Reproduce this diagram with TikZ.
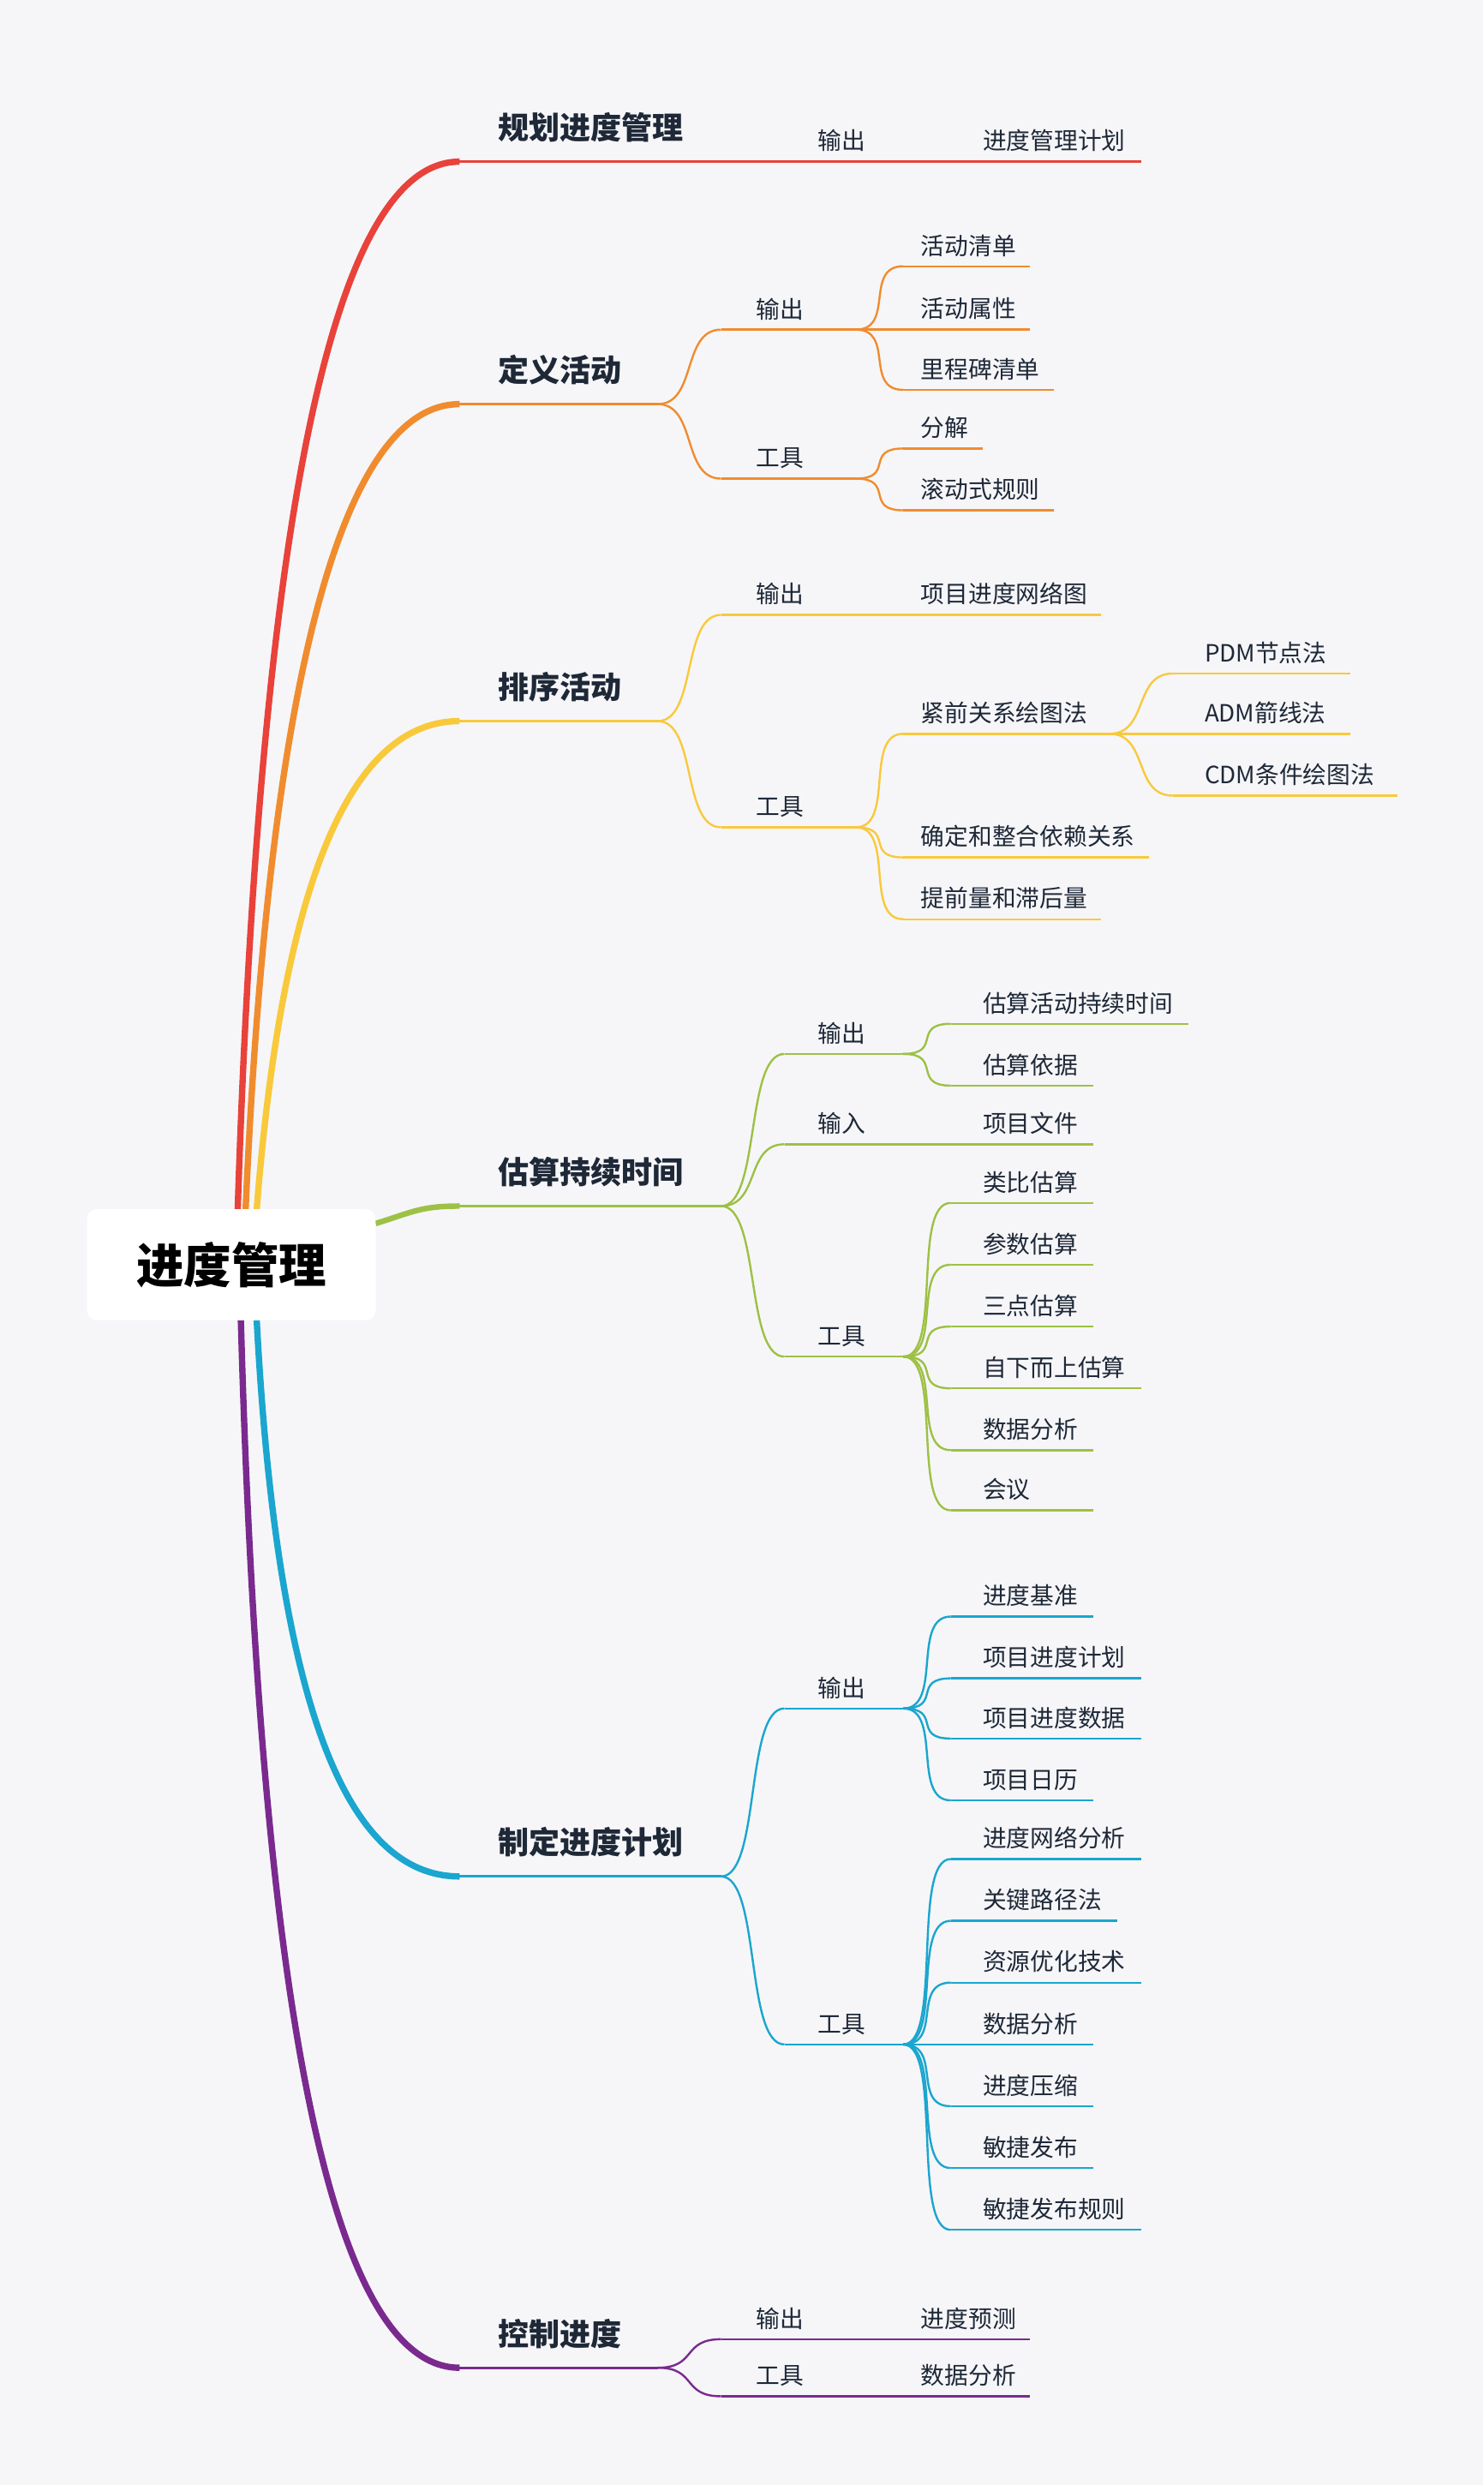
\documentclass[tikz,border=0pt]{standalone}
\usepackage{fontspec}
\setmainfont{Noto Sans CJK SC}
\definecolor{bg}{HTML}{F6F6F9}
\definecolor{cR}{HTML}{E8423A}
\definecolor{cO}{HTML}{F08C2E}
\definecolor{cY}{HTML}{F9C93C}
\definecolor{cG}{HTML}{9DC144}
\definecolor{cB}{HTML}{1AA6CE}
\definecolor{cP}{HTML}{7A2A8E}
\definecolor{tx}{HTML}{1E2837}
\tikzset{ln/.style={line width=1.3pt},
 lone/.style={line width=1.8pt},
 lbl/.style={anchor=south west,inner sep=3pt,yshift=3pt,text=tx,font=\fontsize{15}{17}\selectfont},
 lbo/.style={anchor=south west,inner sep=4pt,yshift=8pt,text=tx,font=\fontsize{19.5}{21}\selectfont\bfseries}}
% #1 color #2 name #3 x1 #4 x2 #5 y #6 label x #7 text
\newcommand\sg[7]{\coordinate (#2a) at (#3,#5);\coordinate (#2b) at (#4,#5);
 \draw[#1,ln] (#2a) -- (#2b); \node[lbl] (#2t) at (#6,#5) {#7};}
\newcommand\lk[3]{\draw[#1,ln] (#2b) .. controls +(25,0) and +(-25,0) .. (#3a);}
\begin{document}
\begin{tikzpicture}[x=1pt,y=-1pt]
\fill[bg] (0,0) rectangle (936,1568);
\useasboundingbox (0,0) rectangle (936,1568);
% level-1 anchors
\coordinate (s1) at (150,763);\coordinate (s2) at (155,763);\coordinate (s3) at (162,763);
\coordinate (s4) at (237,772);\coordinate (s5) at (162,833);\coordinate (s6) at (152,833);
\coordinate (Pa) at (290,102);\coordinate (Pb) at (720,102);
\coordinate (Da) at (290,255);\coordinate (Db) at (415,255);
\coordinate (Sa) at (290,455);\coordinate (Sb) at (415,455);
\coordinate (Ea) at (290,761);\coordinate (Eb) at (455,761);
\coordinate (Ma) at (290,1184);\coordinate (Mb) at (455,1184);
\coordinate (Ca) at (290,1494);\coordinate (Cb) at (415,1494);
\draw[cP,line width=4pt] (s6) .. controls (165,1300) and (215,1494) .. (Ca);
\draw[cB,line width=4pt] (s5) .. controls (175,1080) and (220,1184) .. (Ma);
\draw[cR,line width=4pt] (s1) .. controls (165,300) and (215,102) .. (Pa);
\draw[cO,line width=4pt] (s2) .. controls (170,420) and (218,255) .. (Da);
\draw[cY,line width=4pt] (s3) .. controls (178,560) and (220,455) .. (Sa);
\draw[cG,line width=3.5pt] (s4) .. controls (260,765) and (265,761) .. (Ea);
\node[fill=white,rounded corners=6pt,minimum width=182pt,minimum height=70pt,text=black,font=\fontsize{30}{32}\selectfont\bfseries] (root) at (146,798) {进度管理};
% level-1 lines
\draw[cR,lone] (Pa)--(Pb); \node[lbo] (Pt) at (310,102) {规划进度管理};
\node[lbl] (Po) at (513,102) {输出}; \node[lbl] (Pc) at (617,102) {进度管理计划};
\draw[cO,lone] (Da)--(Db); \node[lbo] (Dt) at (310,255) {定义活动};
\draw[cY,lone] (Sa)--(Sb); \node[lbo] (St) at (310,455) {排序活动};
\draw[cG,lone] (Ea)--(Eb); \node[lbo] (Et) at (310,761) {估算持续时间};
\draw[cB,lone] (Ma)--(Mb); \node[lbo] (Mt) at (310,1184) {制定进度计划};
\draw[cP,lone] (Ca)--(Cb); \node[lbo] (Ct) at (310,1494) {控制进度};
% 定义活动
\sg{cO}{DO}{455}{540}{208}{474}{输出}\lk{cO}{D}{DO}
\sg{cO}{DT}{455}{540}{302}{474}{工具}\lk{cO}{D}{DT}
\sg{cO}{D1}{570}{650}{168}{578}{活动清单}\lk{cO}{DO}{D1}
\sg{cO}{D2}{570}{650}{208}{578}{活动属性}\lk{cO}{DO}{D2}
\sg{cO}{D3}{570}{665}{246}{578}{里程碑清单}\lk{cO}{DO}{D3}
\sg{cO}{D4}{570}{620}{283}{578}{分解}\lk{cO}{DT}{D4}
\sg{cO}{D5}{570}{665}{322}{578}{滚动式规则}\lk{cO}{DT}{D5}
% 排序活动
\sg{cY}{SO}{455}{695}{388}{474}{输出}\lk{cY}{S}{SO}
\node[lbl] (SOc) at (578,388) {项目进度网络图};
\sg{cY}{ST}{455}{540}{522}{474}{工具}\lk{cY}{S}{ST}
\sg{cY}{S1}{570}{700}{463}{578}{紧前关系绘图法}\lk{cY}{ST}{S1}
\sg{cY}{S2}{570}{725}{541}{578}{确定和整合依赖关系}\lk{cY}{ST}{S2}
\sg{cY}{S3}{570}{695}{580}{578}{提前量和滞后量}\lk{cY}{ST}{S3}
\sg{cY}{S4}{740}{852}{425}{757}{PDM节点法}\lk{cY}{S1}{S4}
\sg{cY}{S5}{740}{852}{463}{757}{ADM箭线法}\lk{cY}{S1}{S5}
\sg{cY}{S6}{740}{882}{502}{757}{CDM条件绘图法}\lk{cY}{S1}{S6}
% 估算持续时间
\sg{cG}{EO}{495}{570}{665}{513}{输出}\lk{cG}{E}{EO}
\sg{cG}{EI}{495}{690}{722}{513}{输入}\lk{cG}{E}{EI}
\node[lbl] (EIc) at (617,722) {项目文件};
\sg{cG}{ET}{495}{570}{856}{513}{工具}\lk{cG}{E}{ET}
\sg{cG}{E1}{600}{750}{646}{617}{估算活动持续时间}\lk{cG}{EO}{E1}
\sg{cG}{E2}{600}{690}{685}{617}{估算依据}\lk{cG}{EO}{E2}
\sg{cG}{E3}{600}{690}{759}{617}{类比估算}\lk{cG}{ET}{E3}
\sg{cG}{E4}{600}{690}{798}{617}{参数估算}\lk{cG}{ET}{E4}
\sg{cG}{E5}{600}{690}{837}{617}{三点估算}\lk{cG}{ET}{E5}
\sg{cG}{E6}{600}{720}{876}{617}{自下而上估算}\lk{cG}{ET}{E6}
\sg{cG}{E7}{600}{690}{915}{617}{数据分析}\lk{cG}{ET}{E7}
\sg{cG}{E8}{600}{690}{953}{617}{会议}\lk{cG}{ET}{E8}
% 制定进度计划
\sg{cB}{MO}{495}{570}{1078}{513}{输出}\lk{cB}{M}{MO}
\sg{cB}{MT}{495}{570}{1290}{513}{工具}\lk{cB}{M}{MT}
\sg{cB}{M1}{600}{690}{1020}{617}{进度基准}\lk{cB}{MO}{M1}
\sg{cB}{M2}{600}{720}{1059}{617}{项目进度计划}\lk{cB}{MO}{M2}
\sg{cB}{M3}{600}{720}{1097}{617}{项目进度数据}\lk{cB}{MO}{M3}
\sg{cB}{M4}{600}{690}{1136}{617}{项目日历}\lk{cB}{MO}{M4}
\sg{cB}{N1}{600}{720}{1173}{617}{进度网络分析}\lk{cB}{MT}{N1}
\sg{cB}{N2}{600}{705}{1212}{617}{关键路径法}\lk{cB}{MT}{N2}
\sg{cB}{N3}{600}{720}{1251}{617}{资源优化技术}\lk{cB}{MT}{N3}
\sg{cB}{N4}{600}{690}{1290}{617}{数据分析}\lk{cB}{MT}{N4}
\sg{cB}{N5}{600}{690}{1329}{617}{进度压缩}\lk{cB}{MT}{N5}
\sg{cB}{N6}{600}{690}{1368}{617}{敏捷发布}\lk{cB}{MT}{N6}
\sg{cB}{N7}{600}{720}{1407}{617}{敏捷发布规则}\lk{cB}{MT}{N7}
% 控制进度
\sg{cP}{CO}{455}{650}{1476}{474}{输出}\lk{cP}{C}{CO}
\node[lbl] (COc) at (578,1476) {进度预测};
\sg{cP}{CT}{455}{650}{1512}{474}{工具}\lk{cP}{C}{CT}
\node[lbl] (CTc) at (578,1512) {数据分析};
\end{tikzpicture}
\end{document}
